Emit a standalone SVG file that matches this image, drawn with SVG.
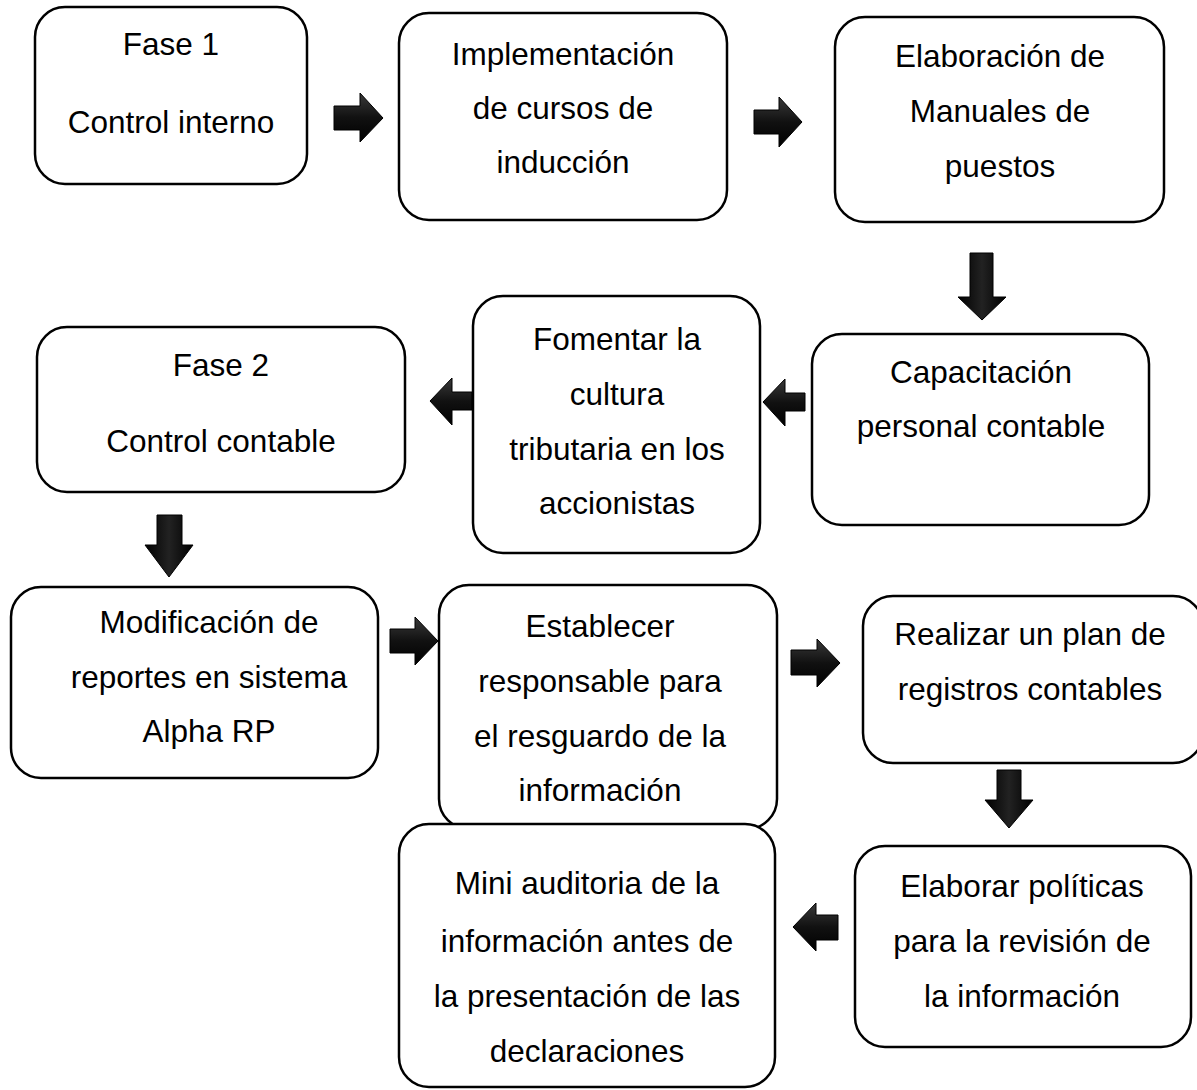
<svg xmlns="http://www.w3.org/2000/svg" width="1197" height="1090" viewBox="0 0 1197 1090">
<defs>
<linearGradient id="ag" x1="0" y1="0" x2="0" y2="1">
<stop offset="0" stop-color="#3a3a3a"/>
<stop offset="0.5" stop-color="#111"/>
<stop offset="1" stop-color="#000"/>
</linearGradient>
<linearGradient id="agv" x1="0" y1="0" x2="1" y2="0">
<stop offset="0" stop-color="#000"/>
<stop offset="0.5" stop-color="#222"/>
<stop offset="1" stop-color="#000"/>
</linearGradient>
</defs>
<style>
.box{fill:#fff;stroke:#000;stroke-width:2.5}
.t{font-family:"Liberation Sans",Arial,sans-serif;font-size:31.5px;fill:#000;text-anchor:middle}
.ar{fill:url(#ag);stroke:#000;stroke-width:1}
.arv{fill:url(#agv);stroke:#000;stroke-width:1}
</style>
<rect width="1197" height="1090" fill="#fff"/>
<g id="connectors">
<polygon class="ar" points="334,106 360,106 360,93 383,118 360,142 360,130 334,130"/>
<polygon class="ar" points="754,110 779,110 779,97 802,122 779,147 779,134 754,134"/>
<polygon class="arv" points="970,253 993,253 993,297 1006,297 982,320 958,297 970,297"/>
<polygon class="ar" points="805,393 785,393 785,379 763,402 785,426 785,411 805,411"/>
<polygon class="ar" points="472,392 452,392 452,378 430,401 452,425 452,410 472,410"/>
<polygon class="arv" points="157,515 182,515 182,545 193,545 169,577 145,545 157,545"/>
<polygon class="ar" points="390,629 415,629 415,617 438,641 415,665 415,653 390,653"/>
<polygon class="ar" points="791,650 817,650 817,639 840,663 817,687 817,675 791,675"/>
<polygon class="arv" points="997,770 1021,770 1021,800 1033,800 1009,828 985,800 997,800"/>
<polygon class="ar" points="838,915 816,915 816,903 793,927 816,951 816,940 838,940"/>
</g>
<g id="n1">
<rect class="box" x="35" y="7" width="272" height="177" rx="30"/>
<text class="t" x="171" y="55">Fase 1</text>
<text class="t" x="171" y="133">Control interno</text>
</g>
<g id="n2">
<rect class="box" x="399" y="13" width="328" height="207" rx="30"/>
<text class="t" x="563" y="65">Implementación</text>
<text class="t" x="563" y="119">de cursos de</text>
<text class="t" x="563" y="173">inducción</text>
</g>
<g id="n3">
<rect class="box" x="835" y="17" width="329" height="205" rx="30"/>
<text class="t" x="1000" y="67">Elaboración de</text>
<text class="t" x="1000" y="122">Manuales de</text>
<text class="t" x="1000" y="177">puestos</text>
</g>
<g id="n4">
<rect class="box" x="812" y="334" width="337" height="191" rx="30"/>
<text class="t" x="981" y="383">Capacitación</text>
<text class="t" x="981" y="437">personal contable</text>
</g>
<g id="n5">
<rect class="box" x="473" y="296" width="287" height="257" rx="30"/>
<text class="t" x="617" y="350">Fomentar la</text>
<text class="t" x="617" y="405">cultura</text>
<text class="t" x="617" y="460">tributaria en los</text>
<text class="t" x="617" y="514">accionistas</text>
</g>
<g id="n6">
<rect class="box" x="37" y="327" width="368" height="165" rx="30"/>
<text class="t" x="221" y="376">Fase 2</text>
<text class="t" x="221" y="452">Control contable</text>
</g>
<g id="n7">
<rect class="box" x="11" y="587" width="367" height="191" rx="30"/>
<text class="t" x="209" y="633">Modificación de</text>
<text class="t" x="209" y="688">reportes en sistema</text>
<text class="t" x="209" y="742">Alpha RP</text>
</g>
<g id="n8">
<rect class="box" x="439" y="585" width="338" height="244" rx="30"/>
<text class="t" x="600" y="637">Establecer</text>
<text class="t" x="600" y="692">responsable para</text>
<text class="t" x="600" y="747">el resguardo de la</text>
<text class="t" x="600" y="801">información</text>
</g>
<g id="n9">
<rect class="box" x="863" y="596" width="340" height="167" rx="30"/>
<text class="t" x="1030" y="645">Realizar un plan de</text>
<text class="t" x="1030" y="700">registros contables</text>
</g>
<g id="n10">
<rect class="box" x="855" y="846" width="336" height="201" rx="30"/>
<text class="t" x="1022" y="897">Elaborar políticas</text>
<text class="t" x="1022" y="952">para la revisión de</text>
<text class="t" x="1022" y="1007">la información</text>
</g>
<g id="n11">
<rect class="box" x="399" y="824" width="376" height="263" rx="30"/>
<text class="t" x="587" y="894">Mini auditoria de la</text>
<text class="t" x="587" y="952">información antes de</text>
<text class="t" x="587" y="1007">la presentación de las</text>
<text class="t" x="587" y="1062">declaraciones</text>
</g>
</svg>
